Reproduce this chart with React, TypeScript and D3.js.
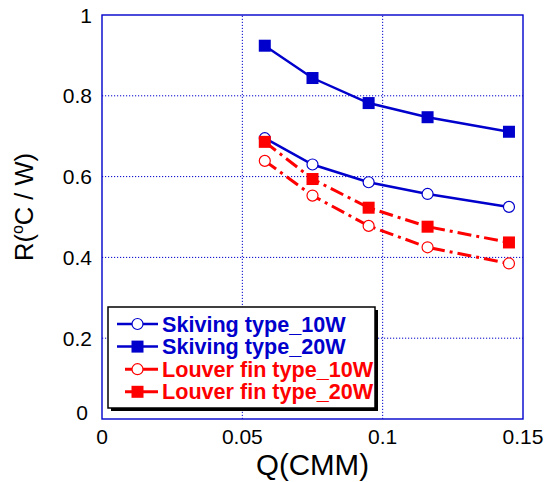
import React from "react";
import * as d3 from "d3";

const flowRates = [0.058, 0.075, 0.095, 0.116, 0.145];
const skiving10W = [0.695, 0.63, 0.586, 0.557, 0.525];
const skiving20W = [0.924, 0.844, 0.782, 0.747, 0.711];
const louver10W = [0.639, 0.553, 0.478, 0.425, 0.385];
const louver20W = [0.686, 0.594, 0.523, 0.476, 0.437];
const xTicks = [0, 0.05, 0.1, 0.15];
const yTicks = [0, 0.2, 0.4, 0.6, 0.8, 1];

const width = 547;
const height = 482;
const margin = { top: 15, right: 24, bottom: 63, left: 102 };
const blue = "#0000cc";
const red = "#ff0000";

const x = d3.scaleLinear().domain([0, 0.15]).range([margin.left, width - margin.right]);
const y = d3.scaleLinear().domain([0, 1]).range([height - margin.bottom, margin.top]);

const series = [
    { name: "Skiving type_10W", values: skiving10W, color: blue, dash: undefined, marker: "circle", width: 2.5 },
    { name: "Skiving type_20W", values: skiving20W, color: blue, dash: undefined, marker: "square", width: 2.5 },
    { name: "Louver fin type_10W", values: louver10W, color: red, dash: "14,5,3,5", marker: "circle", width: 3 },
    { name: "Louver fin type_20W", values: louver20W, color: red, dash: "14,5,3,5", marker: "square", width: 3 },
];

const line = d3.line<number>()
    .x((d, i) => x(flowRates[i]))
    .y(d => y(d));

// circle = open marker, square = filled marker
const Marker = ({ type, cx, cy, color }: { type: string; cx: number; cy: number; color: string }) =>
    type === "circle"
        ? <circle cx={cx} cy={cy} r={5.5} fill="white" stroke={color} strokeWidth={1.2} />
        : <rect x={cx - 6} y={cy - 6} width={12} height={12} fill={color} />;

const App = () => {
    const lx = 108, ly = 307, lw = 267, lh = 101;
    return (
        <svg width={width} height={height}
             style={{ position: "absolute", left: 0, top: 0, fontFamily: "Arial, 'Liberation Sans', sans-serif" }}>
            {/* dotted grid */}
            {xTicks.slice(1, -1).map(t => (
                <line key={"gx" + t} x1={x(t)} x2={x(t)} y1={y(0)} y2={y(1)}
                      stroke={blue} strokeWidth={1} strokeDasharray="1.2,1.8" />
            ))}
            {yTicks.slice(1, -1).map(t => (
                <line key={"gy" + t} x1={x(0)} x2={x(0.15)} y1={y(t)} y2={y(t)}
                      stroke={blue} strokeWidth={1} strokeDasharray="1.2,1.8" />
            ))}
            <rect x={x(0)} y={y(1)} width={x(0.15) - x(0)} height={y(0) - y(1)}
                  fill="none" stroke={blue} strokeWidth={1.4} />

            {/* tick labels */}
            {xTicks.map(t => (
                <text key={"xt" + t} x={x(t)} y={y(0) + 25} textAnchor="middle" fontSize={21}>{String(t)}</text>
            ))}
            {yTicks.map(t => (
                <text key={"yt" + t} x={t === 0 ? x(0) - 14 : x(0) - 10} y={y(t) + 7.5 - (t === 0 ? 7 : 0)}
                      textAnchor="end" fontSize={21}>{String(t)}</text>
            ))}

            {/* axis titles */}
            <text x={(x(0) + x(0.15)) / 2} y={height - 7} textAnchor="middle" fontSize={29.5}>Q(CMM)</text>
            <text transform={`translate(33, ${(y(0) + y(1)) / 2 - 10}) rotate(-90)`} textAnchor="middle" fontSize={25.5}>
                <tspan>R(</tspan>
                <tspan dy={-10} fontSize={16}>o</tspan>
                <tspan dy={10}>C / W)</tspan>
            </text>

            {/* series */}
            {series.map(s => (
                <g key={s.name}>
                    <path d={line(s.values) || ""} fill="none" stroke={s.color} strokeWidth={s.width}
                          strokeDasharray={s.dash} />
                    {s.values.map((v, i) => (
                        <Marker key={i} type={s.marker} cx={x(flowRates[i])} cy={y(v)} color={s.color} />
                    ))}
                </g>
            ))}

            {/* legend */}
            <rect x={lx + 3} y={ly + 3} width={lw} height={lh} fill="black" />
            <rect x={lx} y={ly} width={lw} height={lh} fill="white" stroke="black" strokeWidth={1.5} />
            {series.map((s, i) => {
                const cy = ly + 17 + i * 22.6;
                const x1 = s.color === blue ? lx + 9 : lx + 17;
                const x2 = lx + 50;
                const mx = s.color === blue ? (x1 + x2) / 2 : (x1 + x2) / 2 - 4;
                return (
                    <g key={"lg" + s.name}>
                        <line x1={x1} x2={x2} y1={cy} y2={cy} stroke={s.color} strokeWidth={s.width} />
                        <Marker type={s.marker} cx={mx} cy={cy} color={s.color} />
                        <text x={lx + 54} y={cy + 7.5} fontSize={21.6} fontWeight="bold" fill={s.color}>{s.name}</text>
                    </g>
                );
            })}
        </svg>
    );
};

export default App;
